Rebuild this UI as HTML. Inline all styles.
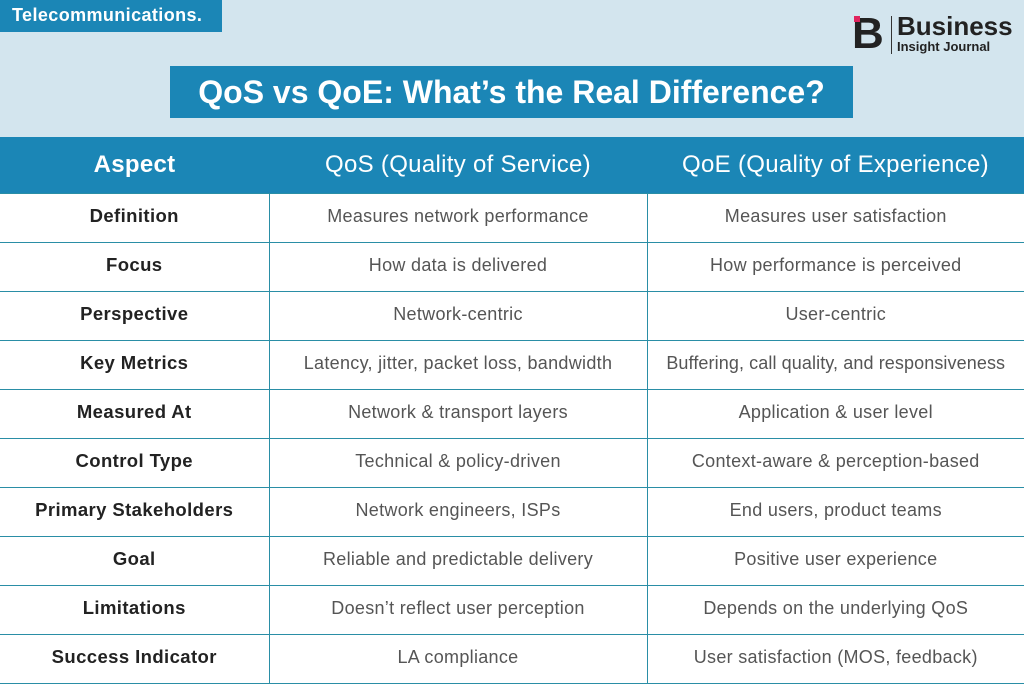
<!DOCTYPE html>
<html><head><meta charset="utf-8"><style>
*{margin:0;padding:0;box-sizing:border-box}
body{width:1024px;height:683px;background:#d3e5ee;position:relative;overflow:hidden;font-family:"Liberation Sans",sans-serif}
.tag{position:absolute;left:0;top:0;width:222px;height:32px;background:#1b86b6;color:#fff;font-weight:bold;font-size:18px;letter-spacing:0.4px;line-height:30px;padding-left:12px}
.title{position:absolute;left:170px;top:66px;width:683px;height:52px;background:#1b86b6;color:#fff;font-weight:bold;font-size:32px;line-height:52px;text-align:center}
.logo{position:absolute;left:852px;top:12px;height:44px}
.logo .b{position:absolute;left:0;top:0;font-size:44px;font-weight:bold;color:#222;line-height:44px}
.logo .dot{position:absolute;left:2px;top:4px;width:6px;height:6px;background:#e0245e}
.logo .bar{position:absolute;left:39px;top:4px;width:1px;height:38px;background:#333}
.logo .t1{position:absolute;left:45px;top:0;font-size:26px;font-weight:bold;color:#222;line-height:28px}
.logo .t2{position:absolute;left:45px;top:28px;font-size:13px;font-weight:bold;color:#222;line-height:14px;white-space:nowrap}
table{position:absolute;left:0;top:137px;width:1024px;border-collapse:collapse;table-layout:fixed}
th{background:#1b86b6;color:#fff;font-size:24px;font-weight:normal;height:56px;text-align:center;letter-spacing:0.3px}
td{background:#fff;border:1.5px solid #2a8ea6;height:49px;text-align:center;font-size:18px;letter-spacing:0.3px;color:#555;white-space:nowrap;padding-bottom:3px}
td:first-child{color:#222;font-weight:bold;font-size:18.5px;letter-spacing:0.4px;border-left:none}
td:last-child{border-right:none}
</style></head><body>
<div class="tag">Telecommunications.</div>
<div class="logo"><div class="b">B</div><div class="dot"></div><div class="bar"></div><div class="t1">Business</div><div class="t2">Insight Journal</div></div>
<div class="title">QoS vs QoE: What’s the Real Difference?</div>
<table>
<colgroup><col style="width:269px"><col style="width:378px"><col style="width:377px"></colgroup>
<tr><th style="font-weight:bold">Aspect</th><th>QoS (Quality of Service)</th><th>QoE (Quality of Experience)</th></tr>
<tr><td>Definition</td><td>Measures network performance</td><td>Measures user satisfaction</td></tr>
<tr><td>Focus</td><td>How data is delivered</td><td>How performance is perceived</td></tr>
<tr><td>Perspective</td><td>Network-centric</td><td>User-centric</td></tr>
<tr><td>Key Metrics</td><td>Latency, jitter, packet loss, bandwidth</td><td style="font-size:18px;letter-spacing:0.1px">Buffering, call quality, and responsiveness</td></tr>
<tr><td>Measured At</td><td>Network &amp; transport layers</td><td>Application &amp; user level</td></tr>
<tr><td>Control Type</td><td>Technical &amp; policy-driven</td><td>Context-aware &amp; perception-based</td></tr>
<tr><td>Primary Stakeholders</td><td>Network engineers, ISPs</td><td>End users, product teams</td></tr>
<tr><td>Goal</td><td>Reliable and predictable delivery</td><td>Positive user experience</td></tr>
<tr><td>Limitations</td><td>Doesn’t reflect user perception</td><td>Depends on the underlying QoS</td></tr>
<tr><td>Success Indicator</td><td>LA compliance</td><td>User satisfaction (MOS, feedback)</td></tr>
</table>
</body></html>
